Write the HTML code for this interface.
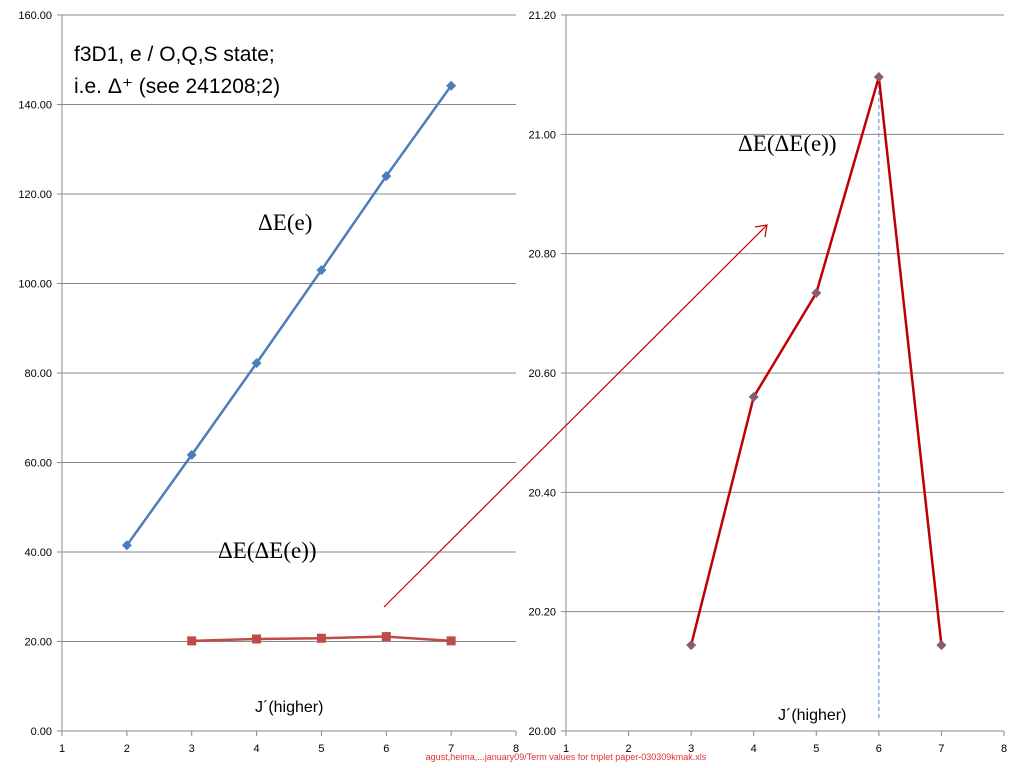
<!DOCTYPE html>
<html><head><meta charset="utf-8"><style>
body{margin:0;background:#fff;width:1024px;height:768px;overflow:hidden;font-family:"Liberation Sans",sans-serif}
svg{position:absolute;left:0;top:0}
</style></head><body>
<svg id="c" width="1024" height="768" font-family="Liberation Sans, sans-serif"></svg>
<script>
const leftX=[2,3,4,5,6,7];
const leftDE=[41.5,61.7,82.2,103.0,124.0,144.2];
const leftX2=[3,4,5,6,7];
const leftDDE=[20.14,20.56,20.73,21.10,20.14];
const leftYTicks=[0,20,40,60,80,100,120,140,160];
const rightX=[3,4,5,6,7];
const rightDDE=[20.144,20.56,20.734,21.096,20.144];
const rightYTicks=[20.0,20.2,20.4,20.6,20.8,21.0,21.2];
const xTicks=[1,2,3,4,5,6,7,8];
const NS="http://www.w3.org/2000/svg";
const svg=document.getElementById('c');
function mk(t,a,p){const e=document.createElementNS(NS,t);for(const k in a)e.setAttribute(k,a[k]);(p||svg).appendChild(e);return e;}
function lx(v){return 62+(v-1)*(516-62)/7;}
function ly(v){return 731-v*(731-15)/160;}
function rx(v){return 566+(v-1)*(1004-566)/7;}
function ry(v){return 731-(v-20)*(731-15)/1.2;}
// left axes
const gL=mk('g',{});


leftYTicks.forEach(t=>{const y=ly(t);
 const l=mk('line',{x1:57,x2:516,y1:y,y2:y,stroke:'#888','stroke-width':1},gL);
 
 const tx=mk('text',{x:52,y:y+4,'font-size':11,'text-anchor':'end',fill:'#000'},gL);tx.textContent=t.toFixed(2);
 });
mk('line',{x1:62,x2:62,y1:15,y2:731,stroke:'#888'},gL);
xTicks.forEach(t=>{const x=lx(t);mk('line',{x1:x,x2:x,y1:731,y2:736,stroke:'#888'},gL);
 const tx=mk('text',{x:x,y:752,'font-size':11,'text-anchor':'middle'},gL);tx.textContent=t;
 });
// blue series
const bp=mk('polyline',{points:leftX.map((x,i)=>lx(x)+','+ly(leftDE[i])).join(' '),fill:'none',stroke:'#4a7ebb','stroke-width':2.5},gL);

leftX.forEach((x,i)=>{const cx=lx(x),cy=ly(leftDE[i]);const m=mk('polygon',{points:`${cx},${cy-5} ${cx+5},${cy} ${cx},${cy+5} ${cx-5},${cy}`,fill:'#4a7ebb'},gL);
 });
const rp=mk('polyline',{points:leftX2.map((x,i)=>lx(x)+','+ly(leftDDE[i])).join(' '),fill:'none',stroke:'#be4b48','stroke-width':2.5},gL);

leftX2.forEach((x,i)=>{const cx=lx(x),cy=ly(leftDDE[i]);const m=mk('rect',{x:cx-4.5,y:cy-4.5,width:9,height:9,fill:'#be4b48'},gL);
 });
// right chart
const gR=mk('g',{});


rightYTicks.forEach(t=>{const y=ry(t);
 const l=mk('line',{x1:561,x2:1004,y1:y,y2:y,stroke:'#888','stroke-width':1},gR);
 
 const tx=mk('text',{x:556,y:y+4,'font-size':11,'text-anchor':'end'},gR);tx.textContent=t.toFixed(2);
 });
mk('line',{x1:566,x2:566,y1:15,y2:731,stroke:'#888'},gR);
xTicks.forEach(t=>{const x=rx(t);mk('line',{x1:x,x2:x,y1:731,y2:736,stroke:'#888'},gR);
 const tx=mk('text',{x:x,y:752,'font-size':11,'text-anchor':'middle'},gR);tx.textContent=t;
 });
const pk=rx(6);
const dl=mk('line',{x1:pk,x2:pk,y1:ry(21.096),y2:720,stroke:'#6b9bd2','stroke-width':1.2,'stroke-dasharray':'4,3'},gR);

const rp2=mk('polyline',{points:rightX.map((x,i)=>rx(x)+','+ry(rightDDE[i])).join(' '),fill:'none',stroke:'#c00000','stroke-width':2.5},gR);

rightX.forEach((x,i)=>{const cx=rx(x),cy=ry(rightDDE[i]);const m=mk('polygon',{points:`${cx},${cy-5} ${cx+5},${cy} ${cx},${cy+5} ${cx-5},${cy}`,fill:'#8a5a7a'},gR);
 });
// arrow
const ar=mk('line',{x1:384,y1:607,x2:767,y2:225,stroke:'#c00000','stroke-width':1.2});

mk('polyline',{points:'755,227 767,225 765,237',fill:'none',stroke:'#c00000','stroke-width':1.2});
// texts
function T(x,y,s,sz,ff,name,col,anchor){const t=mk('text',{x:x,y:y,'font-size':sz,'font-family':ff,fill:col||'#000','text-anchor':anchor||'start'});t.textContent=s;return t;}
T(74,61,'f3D1, e / O,Q,S state;',21,'Liberation Sans, sans-serif','chart-title-line1');
T(74,93,'i.e. Δ⁺ (see 241208;2)',21,'Liberation Sans, sans-serif','chart-title-line2');
T(258,230,'ΔE(e)',23,'Liberation Serif, serif','delta-e-label');
T(218,558,'ΔE(ΔE(e))',23,'Liberation Serif, serif','delta-delta-e-label');
T(738,151,'ΔE(ΔE(e))',23,'Liberation Serif, serif','right-delta-delta-e-label');
T(255,712,'J´(higher)',16,'Liberation Sans, sans-serif','left-x-axis-title');
T(778,720,'J´(higher)',16,'Liberation Sans, sans-serif','right-x-axis-title');
T(566,760,'agust,heima,...january09/Term values for triplet paper-030309kmak.xls',9,'Liberation Sans, sans-serif','source-file-note','#e03030','middle');
</script>
</body></html>
